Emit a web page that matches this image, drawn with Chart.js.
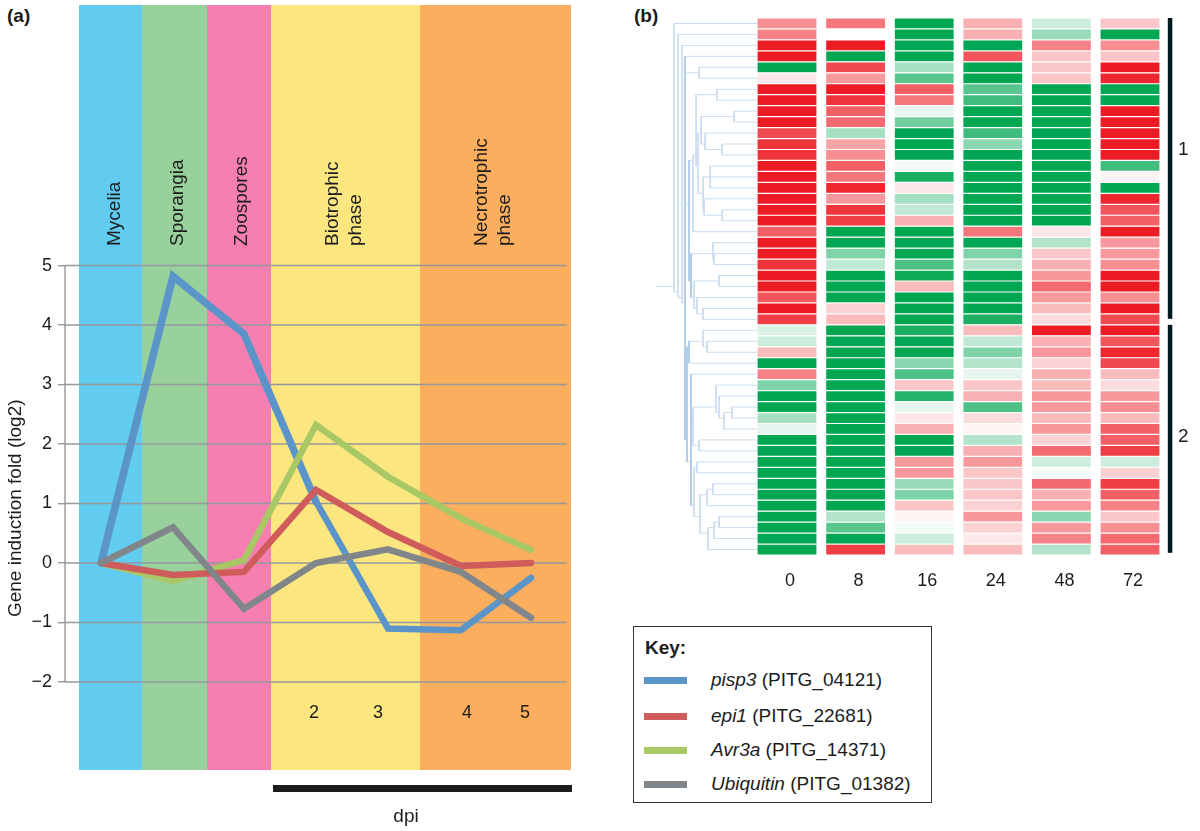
<!DOCTYPE html>
<html>
<head>
<meta charset="utf-8">
<style>
  html, body { margin: 0; padding: 0; background: #fff; }
  body { position: relative; width: 1200px; height: 831px; overflow: hidden; font-family: 'Liberation Sans', Arial, sans-serif; color: #1c1c1c; }
  .box { position: absolute; }
  .box canvas { display: block; }
  #key { position: absolute; left: 633px; top: 626px; width: 297px; height: 175px; border: 1px solid #333; }
  #key .title { position: absolute; left: 11px; top: 10px; font-weight: bold; font-size: 19px; }
  #key .row { position: absolute; left: 0; font-size: 19px; line-height: 22px; white-space: nowrap; }
  #key .swatch { position: absolute; left: 10px; top: 8px; width: 43px; height: 7px; }
  #key .name { position: absolute; left: 77px; top: 0; }
  .panel { position: absolute; font-weight: bold; font-size: 19px; line-height: 22px; }
</style>
</head>
<body>
<div class="panel" style="left:7px;top:5px">(a)</div>
<div class="panel" style="left:634px;top:5px">(b)</div>
<div class="box" style="left:0;top:0;width:600px;height:831px"><canvas id="lineChart"></canvas></div>
<div class="box" style="left:650px;top:18px;width:107px;height:537px"><canvas id="treeChart"></canvas></div>
<div class="box" style="left:740px;top:18px;width:460px;height:570px"><canvas id="heatChart"></canvas></div>
<div id="key"><div class="title">Key:</div></div>

<script src="https://cdn.jsdelivr.net/npm/chart.js@4"></script>
<script>
const FONT = "'Liberation Sans', Arial, sans-serif";

// panel (a)
const stagePos = [2.2, 9.4, 16.5, 23.7, 30.9, 38.2, 45.2];
const yTicks = [5, 4, 3, 2, 1, 0, -1, -2];
const dpiLabels = ['2', '3', '4', '5'];
const dpiLabelPos = [23.5, 29.9, 38.8, 44.6];

const pisp3 = [0, 4.82, 3.85, 1.03, -1.1, -1.13, -0.25];
const epi1 = [0, -0.2, -0.15, 1.23, 0.52, -0.05, 0];
const avr3a = [0, -0.3, 0.05, 2.32, 1.45, 0.75, 0.22];
const ubiquitin = [0, 0.6, -0.77, 0, 0.23, -0.15, -0.92];

const geneNames = ['pisp3', 'epi1', 'Avr3a', 'Ubiquitin'];
const geneIds = ['PITG_04121', 'PITG_22681', 'PITG_14371', 'PITG_01382'];
const geneColors = ['#5b94c9', '#cf5b5b', '#a8c866', '#80868a'];

const bandEdges = [0, 6.3, 12.8, 19.2, 34.1, 49.2];
const bandColors = ['#62cbf0', '#98d19c', '#f57fb0', '#fbe680', '#fbae5e'];
const bandLabels = [['Mycelia'], ['Sporangia'], ['Zoospores'], ['Biotrophic', 'phase'], ['Necrotrophic', 'phase']];
const bandLabelPos = [3.6, 9.9, 16.3, [25.4, 27.7], [40.3, 42.6]];

// panel (b)
const heatColumns = ['0', '8', '16', '24', '48', '72'];
const heat0 = [5, 5.5, 10, 10, -10, 1, 10, 10, 10, 10, 8, 9, 9, 10, 10, 10, 10, 10, 10, 7, 10, 10, 9, 10, 10, 7.5, 10, 8.5, -1.5, -2, 3, -10, 5.5, -5, -10, -10, -3.5, -1, -10, -10, -10, -10, -10, -10, -10, -10, -10, -10, -10];
const heat8 = [6, 0, 10, -10, 8, 4.5, 10, 9, 7, 6.5, -3.5, 4, 5, 7, 6, 9.5, 4.5, 9, 8.5, -10, -10, -5, -2.5, -10, -10, -10, 2, 3, -10, -10, -10, -10, -10, -10, -10, -10, -10, -10, -10, -10, -10, -10, -10, -10, -10, -3, -6.5, -10, 8.5];
const heat16 = [-10, -10, -10, -10, -3.5, -6.5, 7, 6, -1, -5.5, -10, -10, -10, -0.5, -9, 1, -3.5, -2.5, 3.5, -10, -10, -10, -7, -9.5, 3, -10, -10, -10, -9, -10, -10, -4.5, -7, 2.5, -8.5, -1, 1, 3.5, -10, -10, 4.5, 4.5, -4, -5, 2.5, 0.5, -0.5, -2, 3];
const heat24 = [3.5, 3.5, -10, 7.5, -10, -10, -6.5, -7.5, -10, -10, -7.5, -4.5, -10, -10, -10, -10, -10, -10, -10, 6, -10, -5, -3, -10, -10, -10, -10, -9, 3, -2.5, -5, -3, -1, 2.5, 3.5, -7, 1.5, 0.5, -3, 3.5, 4.5, 2.5, 2.5, 2.5, 2, 4.5, 2, 1, 3];
const heat48 = [-2, -4, 5.5, 2.5, 2.5, 2.5, -10, -10, -10, -10, -10, -10, -10, -10, -10, -10, -10, -10, -10, 1, -3, 2.5, 3.5, 4.5, 6.5, 4.5, 3, 1.5, 10, 3.5, 4.5, 2, 3.5, 3, 4.5, 4.5, 3, 4.5, 2, 6.5, -2, -0.5, 6.5, 3.5, 4.5, -4.5, 4.5, 5.5, -3];
const heat72 = [2.5, -10, 5, 2.5, 10, 9.5, -10, -10, 10, 10, 10, 10, 10, -7.5, 0.5, -10, 9.5, 7.5, 7, 10, 4.5, 4.5, 5, 10, 10, 5, 10, 8, 10, 7.5, 9.5, 8, 3, 1.5, 4.5, 5, 3, 7, 7, 8.5, -2, 2, 8.5, 7, 5.5, 2.5, 5, 6.5, 7];
const heatByColumn = [heat0, heat8, heat16, heat24, heat48, heat72];

const clusterLabels = ['1', '2'];
const clusterFrom = [0, 28];
const clusterTo = [27.45, 48.8];
const clusterLabelRow = [12, 38.2];

// [distance, child, child, ...], a bare number is a heat map row
const treeUpper = [68,
  [64,
    [61, [40, 6, 7],
      [59,
        [56, [23, 8, 9], [52, 10, [35, 11, 12]]],
        [54, [47, 13, 14, 15], [53, 16, [35, 17, 18]]]]],
    19],
  [66,
    [44, 20, [43, 21, 22]],
    [63, [38, 23, 24], [60, 25, [54, 26, 27]]]]];
const treeLower = [70,
  [68, [54, 28, [50, 29, 30]], 31],
  [66, 32,
    [64, [41, 33, [38, 34, [33, [25, 35, 36], 37]]], [58, 38, 39]],
    [63, [60, 40, 41],
      [57, [50, [44, 42, 43], 44], [49, [43, [38, 45, 46], 47], 48]]]]];
const dendrogram = [83, 0, [79, 1, [75, 2, [72, 3, [58, 4, 5], treeUpper, treeLower]]]];

function heatColor(v) {
  const t = Math.abs(v) / 10;
  const end = v > 0 ? [237, 28, 36] : [0, 166, 81];
  const c = end.map(e => Math.round(255 + (e - 255) * t));
  return 'rgb(' + c.join(',') + ')';
}

// horizontal arms go in segs, the uprights of the inner nodes in dark
function treeSegments(node, segs, dark) {
  if (typeof node === 'number') return { y: node + 0.5, leaves: [node + 0.5] };
  const d = node[0];
  const kids = node.slice(1).map(n => ({ n, r: treeSegments(n, segs, dark) }));
  kids.forEach(k => {
    const kd = typeof k.n === 'number' ? 0 : k.n[0];
    segs.push({ x: kd, y: k.r.y }, { x: d, y: k.r.y }, { x: NaN, y: NaN });
  });
  const ys = kids.map(k => k.r.y);
  const upright = d >= 66 && d <= 72 ? dark : segs;
  upright.push({ x: d, y: Math.min(...ys) }, { x: d, y: Math.max(...ys) }, { x: NaN, y: NaN });
  const leaves = kids.flatMap(k => k.r.leaves);
  return { y: leaves.reduce((a, b) => a + b, 0) / leaves.length, leaves };
}

// bands, rules and labels of panel (a)
const stagePlugin = {
  id: 'stages',
  beforeDraw(chart) {
    const { ctx, chartArea, scales: { x, y } } = chart;
    ctx.save();
    bandColors.forEach((col, i) => {
      const l = x.getPixelForValue(bandEdges[i]);
      ctx.fillStyle = col;
      ctx.fillRect(l, chartArea.top, x.getPixelForValue(bandEdges[i + 1]) - l, chartArea.bottom - chartArea.top);
    });
    ctx.strokeStyle = '#94999c';
    ctx.lineWidth = 1.4;
    yTicks.forEach(t => {
      const py = y.getPixelForValue(t);
      ctx.beginPath();
      ctx.moveTo(chartArea.left, py);
      ctx.lineTo(x.getPixelForValue(48.8), py);
      ctx.stroke();
    });
    ctx.beginPath();
    ctx.moveTo(chartArea.left, y.getPixelForValue(5));
    ctx.lineTo(chartArea.left, y.getPixelForValue(-2));
    ctx.stroke();
    ctx.restore();
  },
  afterDraw(chart) {
    const { ctx, scales: { x, y } } = chart;
    ctx.save();
    ctx.fillStyle = '#1c1c1c';
    ctx.font = '19px ' + FONT;
    ctx.textBaseline = 'middle';
    // rotated stage names
    bandLabels.forEach((lines, i) => {
      const pos = [].concat(bandLabelPos[i]);
      lines.forEach((txt, j) => {
        ctx.save();
        ctx.translate(x.getPixelForValue(pos[j]), 246);
        ctx.rotate(-Math.PI / 2);
        ctx.textAlign = 'left';
        ctx.fillText(txt, 0, 0);
        ctx.restore();
      });
    });
    ctx.textAlign = 'center';
    ctx.font = '18px ' + FONT;
    dpiLabels.forEach((d, i) => {
      ctx.fillText(d, x.getPixelForValue(dpiLabelPos[i]), 713);
    });
    ctx.font = '19px ' + FONT;
    ctx.fillText('dpi', x.getPixelForValue(32.7), 817);
    const l = x.getPixelForValue(19.4);
    ctx.fillRect(l, 785, x.getPixelForValue(49.3) - l, 7);
    ctx.save();
    ctx.translate(16, y.getPixelForValue(0.92));
    ctx.rotate(-Math.PI / 2);
    ctx.fillText('Gene induction fold (log2)', 0, 0);
    ctx.restore();
    ctx.restore();
  }
};

const lineSeries = [pisp3, epi1, avr3a, ubiquitin];

new Chart(document.getElementById('lineChart'), {
  type: 'line',
  data: {
    datasets: lineSeries.map((vals, i) => ({
      label: geneNames[i],
      data: vals.map((v, k) => ({ x: stagePos[k], y: v })),
      borderColor: geneColors[i],
      borderWidth: 6.5,
      pointRadius: 0,
      tension: 0,
      borderJoinStyle: 'miter',
      borderCapStyle: 'round',
      // the blue line is drawn heavier over the first stages
      segment: i === 0 ? { borderWidth: c => (c.p0DataIndex < 3 ? 7.5 : 6.5) } : {},
      order: [3, 1, 2, 0][i]
    }))
  },
  plugins: [stagePlugin],
  options: {
    responsive: true,
    maintainAspectRatio: false,
    animation: false,
    layout: { padding: { top: 5, right: 29, bottom: 61, left: 0 } },
    plugins: { legend: { display: false }, tooltip: { enabled: false } },
    scales: {
      x: { type: 'linear', min: -1.4, max: 49.2, display: false },
      y: {
        min: -3.48,
        max: 9.38,
        afterBuildTicks: s => { s.ticks = yTicks.map(v => ({ value: v })); },
        afterFit: s => { s.width = 65; s.paddingTop = 0; s.paddingBottom = 0; },
        border: { display: false },
        grid: { drawOnChartArea: false, drawTicks: true, tickLength: 7, color: '#94999c', lineWidth: 1.4 },
        ticks: {
          color: '#1c1c1c',
          padding: 6,
          font: { size: 18, family: FONT },
          callback: v => (v < 0 ? '\u2212' + Math.abs(v) : v)
        }
      }
    }
  }
});

// dendrogram
const treeData = [];
const treeDark = [];
const rootY = treeSegments(dendrogram, treeData, treeDark).y;
treeData.push({ x: 83, y: rootY }, { x: 101, y: rootY });

new Chart(document.getElementById('treeChart'), {
  type: 'scatter',
  data: {
    datasets: [
      { data: treeDark, showLine: true, spanGaps: false, borderColor: '#a9c6e6', borderWidth: 1, pointRadius: 0 },
      { data: treeData, showLine: true, spanGaps: false, borderColor: '#cadcf0', borderWidth: 1, pointRadius: 0 }
    ]
  },
  options: {
    responsive: true,
    maintainAspectRatio: false,
    animation: false,
    layout: { padding: 0 },
    plugins: { legend: { display: false }, tooltip: { enabled: false } },
    scales: {
      x: { type: 'linear', reverse: true, min: 0, max: 107, display: false },
      y: { type: 'linear', reverse: true, min: 0, max: 49, display: false }
    }
  }
});

// cluster bars on the right of the heat map
const clusterPlugin = {
  id: 'clusters',
  afterDraw(chart) {
    const { ctx, chartArea, scales: { y } } = chart;
    ctx.save();
    ctx.font = '19px ' + FONT;
    ctx.textAlign = 'center';
    ctx.textBaseline = 'middle';
    clusterLabels.forEach((lab, i) => {
      const t = y.getPixelForValue(clusterFrom[i]);
      const b = y.getPixelForValue(clusterTo[i]);
      ctx.fillStyle = '#02181f';
      ctx.fillRect(chartArea.right + 3.5, t, 4.5, b - t);
      ctx.fillStyle = '#1c1c1c';
      ctx.fillText(lab, chartArea.right + 19, y.getPixelForValue(clusterLabelRow[i]));
    });
    ctx.restore();
  }
};

new Chart(document.getElementById('heatChart'), {
  type: 'bar',
  data: {
    labels: heatColumns,
    datasets: heat0.map((_, row) => ({
      data: heatColumns.map(() => [row, row + 1]),
      backgroundColor: heatByColumn.map(col => heatColor(col[row])),
      borderColor: '#ffffff',
      borderWidth: 0.6,
      borderSkipped: false,
      grouped: false,
      categoryPercentage: 1,
      barPercentage: 0.875
    }))
  },
  plugins: [clusterPlugin],
  options: {
    responsive: true,
    maintainAspectRatio: false,
    animation: false,
    layout: { padding: { left: 12.7, right: 35.7, top: 0, bottom: 0 } },
    plugins: { legend: { display: false }, tooltip: { enabled: false } },
    scales: {
      x: {
        offset: true,
        afterFit: s => { s.height = 33; },
        border: { display: false },
        grid: { display: false, drawTicks: false },
        ticks: { color: '#1c1c1c', padding: 15, labelOffset: 3, font: { size: 18, family: FONT }, maxRotation: 0 }
      },
      y: { type: 'linear', reverse: true, min: 0, max: 49, display: false }
    }
  }
});

// key box
const keyBox = document.getElementById('key');
const keyRowTops = [42, 78, 112, 146];
geneNames.forEach((g, i) => {
  const row = document.createElement('div');
  row.className = 'row';
  row.style.top = keyRowTops[i] + 'px';
  row.innerHTML = '<span class="swatch" style="background:' + geneColors[i] + '"></span>' +
    '<span class="name"><i>' + g + '</i> (' + geneIds[i] + ')</span>';
  keyBox.appendChild(row);
});
</script>
</body>
</html>
